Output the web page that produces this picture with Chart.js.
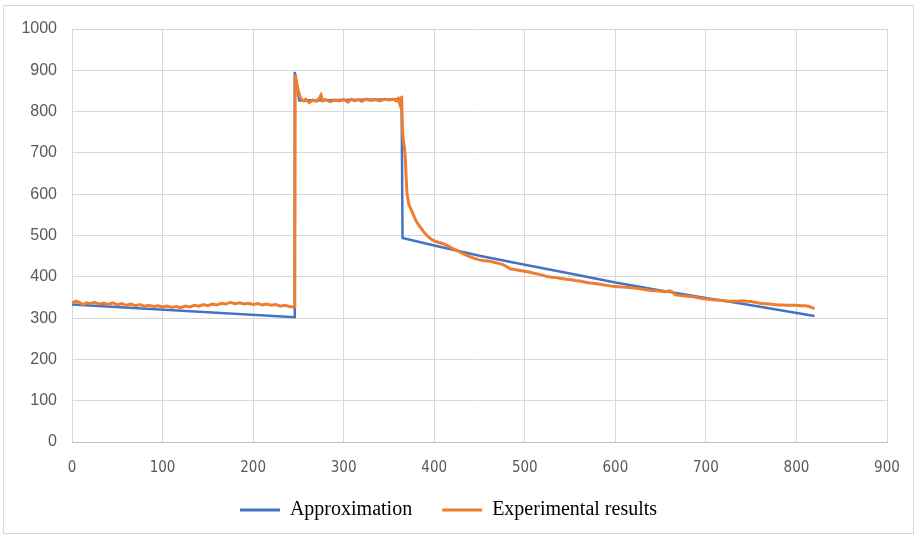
<!DOCTYPE html>
<html>
<head>
<meta charset="utf-8">
<script src="https://cdn.jsdelivr.net/npm/chart.js@4.4.0/dist/chart.umd.min.js"></script>
<style>
  body { margin: 0; background: #fff; }
  #wrap { position: relative; width: 917px; height: 536px; }
  #frame { position: absolute; left: 3px; top: 5px; width: 909px; height: 527px; border: 1px solid #d9d9d9; pointer-events: none; }
</style>
</head>
<body>
<div id="wrap">
  <canvas id="myChart" width="917" height="536"></canvas>
  <div id="frame"></div>
</div>
<script>
// approximation line
var approxX = [0, 246, 246, 251, 364, 365, 400, 450, 500, 550, 600, 650, 700, 750, 820];
var approxY = [333, 302, 896, 827, 830, 494, 476, 451, 429, 408, 386, 367, 349, 331, 305];

// experimental results
var expX = [0, 4, 8, 12, 16, 20, 25, 30, 35, 40, 45, 50, 55, 60, 65, 70, 75, 80, 85, 90, 95, 100,
  105, 110, 115, 120, 125, 130, 135, 140, 145, 150, 155, 160, 165, 170, 175, 180, 185, 190, 195, 200,
  205, 210, 215, 220, 225, 230, 235, 240, 244, 246, 246.5, 248, 250, 252, 254, 256, 258, 262, 266, 270,
  273, 275, 277, 280, 285, 290, 295, 300, 305, 308, 312, 316, 320, 325, 330, 335, 340, 345, 350, 355,
  358, 360, 362, 363, 364, 365, 366, 367, 368, 369, 370, 372, 375, 377, 380, 384, 388, 392, 396, 400, 405,
  410, 415, 420, 425, 430, 436, 440, 445, 450, 455, 460, 465, 470, 475, 480, 484, 488, 493, 498, 503,
  509, 514, 519, 524, 530, 535, 540, 546, 551, 556, 562, 567, 572, 578, 583, 588, 594, 598, 603, 609,
  616, 620, 625, 630, 636, 640, 645, 650, 655, 660, 663, 666, 670, 675, 680, 685, 690, 695, 700, 705,
  710, 715, 720, 725, 730, 735, 741, 745, 750, 755, 760, 765, 770, 775, 780, 785, 790, 795, 800, 805,
  810, 814, 820];
var expY = [336, 341, 338, 333, 337, 335, 338, 334, 336, 333, 337, 332, 335, 331, 334, 330, 333, 329, 331, 328, 330, 327,
  329, 326, 328, 325, 329, 327, 331, 329, 333, 330, 334, 332, 336, 334, 338, 335, 337, 334, 336, 333,
  335, 332, 334, 331, 333, 329, 331, 328, 327, 327, 890, 870, 850, 835, 828, 826, 830, 822, 828, 825,
  832, 840, 826, 829, 824, 828, 826, 829, 823, 830, 826, 829, 825, 830, 827, 829, 826, 830, 828, 830,
  826, 831, 818, 833, 834, 750, 728, 715, 690, 640, 600, 575, 560, 550, 535, 522, 510, 500, 492, 487, 483,
  480, 475, 469, 464, 458, 452, 448, 444, 441, 439, 438, 436, 433, 430, 425, 419, 418, 416, 414, 412,
  409, 407, 404, 401, 399, 398, 396, 394, 393, 391, 389, 387, 385, 384, 382, 380, 378, 377, 376, 375,
  374, 373, 372, 370, 368, 367, 366, 365, 364, 366, 363, 357, 355, 354, 353, 352, 350, 348, 346, 345,
  344, 343, 342, 341, 341, 341, 342, 341, 340, 338, 336, 335, 334, 333, 332, 332, 331, 331, 331, 330,
  330, 328, 323];

var xTicks = [0, 100, 200, 300, 400, 500, 600, 700, 800, 900];
var yTicks = [0, 100, 200, 300, 400, 500, 600, 700, 800, 900, 1000];

function pairs(xs, ys) {
  return xs.map(function (x, i) { return { x: x, y: ys[i] }; });
}

var ctx = document.getElementById('myChart').getContext('2d');
var resultChart = new Chart(ctx, {
  type: 'line',
  data: {
    datasets: [{
      label: 'Approximation',
      data: pairs(approxX, approxY),
      borderColor: '#4472c4',
      backgroundColor: '#4472c4',
      borderWidth: 2.5,
      pointRadius: 0,
      order: 1
    }, {
      label: 'Experimental results',
      data: pairs(expX, expY),
      borderColor: '#ed7d31',
      backgroundColor: '#ed7d31',
      borderWidth: 3,
      pointRadius: 0,
      order: 0
    }]
  },
  options: {
    responsive: false,
    animation: false,
    layout: { padding: { left: 10, right: 30, top: 29, bottom: 6 } },
    scales: {
      x: {
        type: 'linear',
        min: 0,
        max: 900,
        afterBuildTicks: function (scale) { scale.ticks = xTicks.map(function (v) { return { value: v }; }); },
        afterFit: function (scale) { scale.height = 48; },
        grid: { color: '#d9d9d9', drawTicks: false },
        border: { color: '#bfbfbf' },
        ticks: {
          padding: 17, color: '#595959',
          font: { family: '"Liberation Sans Narrow", "DejaVu Sans Condensed", sans-serif', size: 15 },
          callback: function (v) { return String(v); }
        }
      },
      y: {
        min: 0,
        max: 1000,
        afterBuildTicks: function (scale) { scale.ticks = yTicks.map(function (v) { return { value: v }; }); },
        afterFit: function (scale) { scale.width = 62; },
        grid: { color: '#d9d9d9', drawTicks: false },
        border: { display: false },
        ticks: {
          padding: 15, color: '#595959',
          font: { family: '"Liberation Sans", sans-serif', size: 16 },
          callback: function (v) { return String(v); }
        }
      }
    },
    plugins: {
      tooltip: { enabled: false },
      legend: {
        position: 'bottom',
        labels: {
          boxWidth: 40,
          boxHeight: 3,
          padding: 10,
          color: '#000',
          font: { family: '"Liberation Serif", serif', size: 20 },
          sort: function (a, b) { return a.datasetIndex - b.datasetIndex; },
          generateLabels: function (chart) {
            var items = Chart.defaults.plugins.legend.labels.generateLabels(chart);
            items.forEach(function (it) {
              it.lineWidth = 0;
              if (it.datasetIndex === 0) it.text = it.text + '\u2003';
            });
            return items;
          }
        }
      }
    }
  }
});
</script>
</body>
</html>
